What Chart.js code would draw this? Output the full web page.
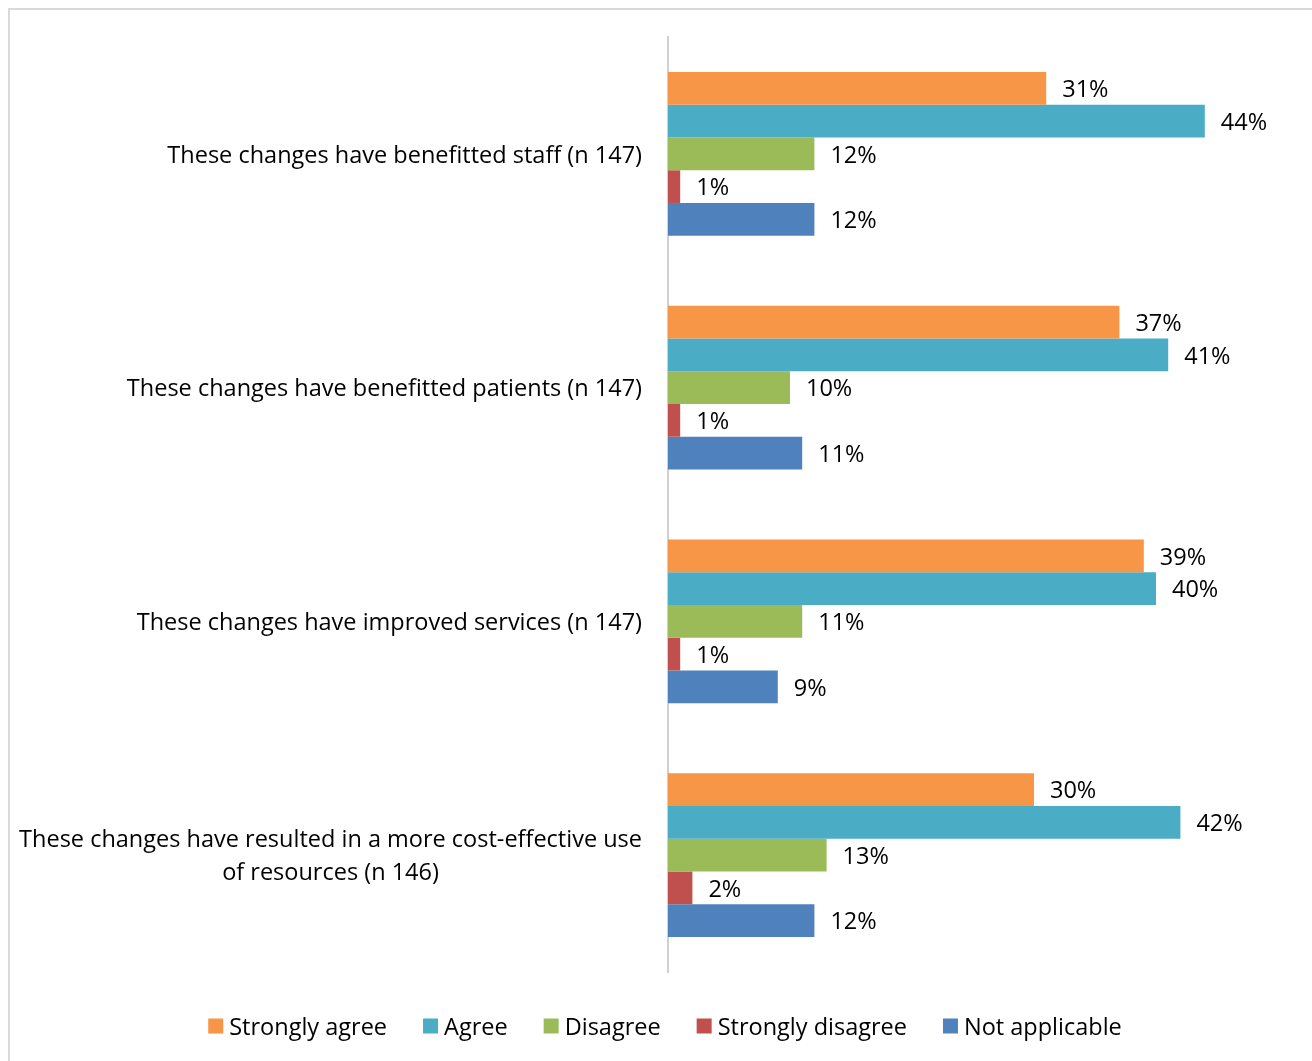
<!DOCTYPE html>
<html>
<head>
<meta charset="utf-8">
<script src="https://cdn.jsdelivr.net/npm/chart.js@4/dist/chart.umd.min.js"></script>
<style>
    html, body { margin: 0; padding: 0; background: #ffffff; overflow: hidden; }
    #frame {
        position: absolute; left: 8px; top: 8px;
        width: 1400px; height: 1100px;
        border: 2px solid #d9d9d9; box-sizing: border-box;
    }
    #wrap { position: absolute; left: 0; top: 0; width: 1312px; height: 1061px; }
</style>
</head>
<body>
<div id="frame"></div>
<div id="wrap"><canvas id="changesChart"></canvas></div>
<script>
var categories = [
    'These changes have benefitted staff (n 147)',
    'These changes have benefitted patients (n 147)',
    'These changes have improved services (n 147)',
    ['These changes have resulted in a more cost-effective use', 'of resources (n 146)']
];
var stronglyAgree = [31, 37, 39, 30];
var agree = [44, 41, 40, 42];
var disagree = [12, 10, 11, 13];
var stronglyDisagree = [1, 1, 1, 2];
var notApplicable = [12, 11, 9, 12];

var FONT = '"Open Sans"';
var FONT_SIZE = 23.5;

// category labels: right aligned block, lines centred inside the block
var categoryLabels = {
    id: 'categoryLabels',
    afterDraw: function (chart) {
        var ctx = chart.ctx;
        var yScale = chart.scales.y;
        var right = chart.chartArea.left - 26;
        ctx.save();
        ctx.font = FONT_SIZE + 'px ' + FONT;
        ctx.fillStyle = '#000000';
        ctx.textAlign = 'center';
        ctx.textBaseline = 'middle';
        categories.forEach(function (label, i) {
            var lines = Array.isArray(label) ? label : [label];
            var widest = 0;
            lines.forEach(function (l) { widest = Math.max(widest, ctx.measureText(l).width); });
            var cx = right - widest / 2;
            var lineHeight = 33;
            var y0 = yScale.getPixelForValue(i) + 2 - (lines.length - 1) * lineHeight / 2;
            lines.forEach(function (l, j) {
                ctx.fillText(l, cx, y0 + j * lineHeight);
            });
        });
        ctx.restore();
    }
};

// percentage printed just past the end of each bar
var valueLabels = {
    id: 'valueLabels',
    afterDatasetsDraw: function (chart) {
        var ctx = chart.ctx;
        ctx.save();
        ctx.font = FONT_SIZE + 'px ' + FONT;
        ctx.fillStyle = '#000000';
        ctx.textAlign = 'left';
        ctx.textBaseline = 'middle';
        chart.data.datasets.forEach(function (ds, di) {
            chart.getDatasetMeta(di).data.forEach(function (bar, i) {
                ctx.fillText(ds.data[i] + '%', bar.x + 16, bar.y + 2);
            });
        });
        ctx.restore();
    }
};

// legend row under the plot: small square, short gap, name
var bottomLegend = {
    id: 'bottomLegend',
    afterDraw: function (chart) {
        var ctx = chart.ctx;
        var box = 15, gap = 6, spacing = 36;
        var y = 1026;
        ctx.save();
        ctx.font = FONT_SIZE + 'px ' + FONT;
        ctx.textBaseline = 'middle';
        ctx.textAlign = 'left';
        var items = chart.data.datasets.map(function (ds) {
            return { text: ds.label, color: ds.backgroundColor, w: ctx.measureText(ds.label).width };
        });
        var total = 0;
        items.forEach(function (it, i) { total += box + gap + it.w + (i ? spacing : 0); });
        var x = 665 - total / 2;
        items.forEach(function (it) {
            ctx.fillStyle = it.color;
            ctx.fillRect(x, y - box / 2, box, box);
            ctx.fillStyle = '#000000';
            ctx.fillText(it.text, x + box + gap, y + 2);
            x += box + gap + it.w + spacing;
        });
        ctx.restore();
    }
};

var barChart = new Chart(document.getElementById('changesChart'), {
    type: 'bar',
    data: {
        labels: categories,
        datasets: [
            { label: 'Strongly agree', data: stronglyAgree, backgroundColor: '#F79646' },
            { label: 'Agree', data: agree, backgroundColor: '#4BACC6' },
            { label: 'Disagree', data: disagree, backgroundColor: '#9BBB59' },
            { label: 'Strongly disagree', data: stronglyDisagree, backgroundColor: '#C0504D' },
            { label: 'Not applicable', data: notApplicable, backgroundColor: '#4F81BD' }
        ]
    },
    options: {
        indexAxis: 'y',
        responsive: true,
        maintainAspectRatio: false,
        animation: false,
        layout: { padding: { top: 37, right: 34, bottom: 89, left: 0 } },
        datasets: { bar: { categoryPercentage: 0.7, barPercentage: 1.0 } },
        scales: {
            x: {
                display: false,
                min: 0,
                max: 50
            },
            y: {
                grid: { display: false, drawTicks: false },
                border: { display: true, color: '#d0d0d0', width: 2 },
                ticks: { display: false },
                afterFit: function (scale) { scale.width = 668; }
            }
        },
        plugins: {
            legend: { display: false },
            tooltip: { enabled: false }
        }
    },
    plugins: [categoryLabels, valueLabels, bottomLegend]
});
</script>
</body>
</html>
